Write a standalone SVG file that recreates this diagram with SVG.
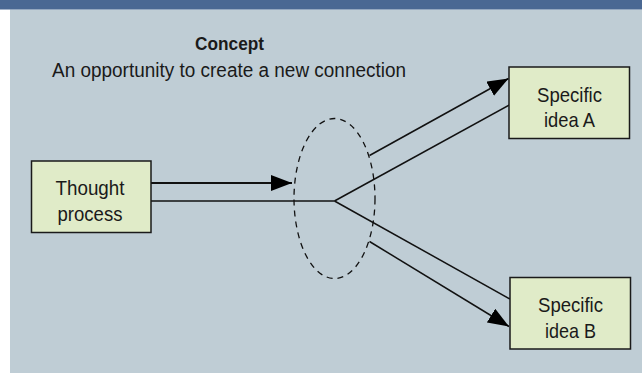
<svg xmlns="http://www.w3.org/2000/svg" width="642" height="373" viewBox="0 0 642 373">
  <defs>
    <style>
      .bg { fill: #bfcdd5; }
      .hdr { fill: #4a6893; }
      .node rect { fill: #e0ebc8; stroke: #1a1a1a; stroke-width: 1.5; }
      text { font-family: "Liberation Sans", Arial, sans-serif; font-size: 19px; fill: #1a1a1a; }
      .node text { font-size: 21px; }
      .ctr { text-anchor: middle; }
      .bold { font-weight: bold; font-size: 18px; }
      .conn line { stroke: #111; stroke-width: 1.5; fill: none; }
      .halo { fill: none; stroke: #111; stroke-width: 1.3; stroke-dasharray: 6 5; }
    </style>
    <marker id="arrow" markerUnits="userSpaceOnUse" markerWidth="22" markerHeight="17" refX="21" refY="8" orient="auto">
      <path d="M0,0 L21,8 L0,16 Z" fill="#000"/>
    </marker>
  </defs>

  <rect x="0" y="0" width="642" height="373" fill="#ffffff"/>
  <rect class="bg" x="10" y="9.5" width="632" height="363.5"/>
  <rect class="hdr" x="0" y="0" width="642" height="9.5"/>

  <g id="concept-label">
    <text class="ctr bold" x="229.5" y="50" textLength="69" lengthAdjust="spacingAndGlyphs">Concept</text>
    <text class="ctr" x="229" y="77" style="font-size:20px" textLength="354" lengthAdjust="spacingAndGlyphs">An opportunity to create a new connection</text>
  </g>

  <g id="concept-ellipse">
    <ellipse class="halo" cx="334.5" cy="198.5" rx="40.5" ry="80"/>
  </g>

  <g id="connectors" class="conn">
    <line x1="151" y1="183" x2="292" y2="183" marker-end="url(#arrow)" style="stroke-width:1.8"/>
    <line x1="151" y1="201" x2="334.5" y2="201"/>
    <line x1="334.5" y1="201" x2="511" y2="104"/>
    <line x1="334.5" y1="201" x2="510" y2="299"/>
    <line x1="369.5" y1="155.5" x2="508.5" y2="78.5" marker-end="url(#arrow)"/>
    <line x1="369.5" y1="241.5" x2="509" y2="326.5" marker-end="url(#arrow)"/>
  </g>

  <g id="thought-process" class="node">
    <rect x="31.5" y="161" width="119.5" height="71.5"/>
    <text class="ctr" x="90" y="195" textLength="69" lengthAdjust="spacingAndGlyphs">Thought</text>
    <text class="ctr" x="90" y="221" textLength="65" lengthAdjust="spacingAndGlyphs">process</text>
  </g>

  <g id="idea-a" class="node">
    <rect x="509" y="67" width="120.5" height="71.5"/>
    <text class="ctr" x="569.5" y="101.5" textLength="65" lengthAdjust="spacingAndGlyphs">Specific</text>
    <text class="ctr" x="569.5" y="127" textLength="51" lengthAdjust="spacingAndGlyphs">idea A</text>
  </g>

  <g id="idea-b" class="node">
    <rect x="510" y="277.5" width="120.5" height="71.5"/>
    <text class="ctr" x="570.5" y="311.5" textLength="65" lengthAdjust="spacingAndGlyphs">Specific</text>
    <text class="ctr" x="570.5" y="337.5" textLength="51" lengthAdjust="spacingAndGlyphs">idea B</text>
  </g>
</svg>
